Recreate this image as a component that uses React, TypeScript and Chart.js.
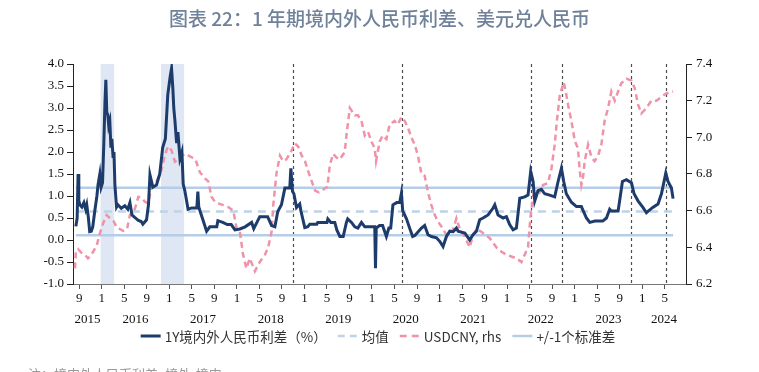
import { useEffect, useRef } from 'react';
import { Chart, registerables } from 'chart.js';

Chart.register(...registerables);

const titleText = '图表 22：1 年期境内外人民币利差、美元兑人民币';
const noteText = '注：境内外人民币利差=境外-境内';
const legendLabels = ['1Y境内外人民币利差（%）', '均值', 'USDCNY, rhs', '+/-1个标准差'];

const axisStart = '2015-07-28';
const axisEnd = '2024-08-25';
const monthTickMonths = [9, 1, 5];

const leftMin = -1.0;
const leftMax = 4.0;
const leftStep = 0.5;
const rightMin = 6.2;
const rightMax = 7.4;
const rightStep = 0.1;

const spreadMean = 0.65;
const spreadUpper = 1.19;
const spreadLower = 0.11;

const eventDates = ['2018-10-30', '2020-06-09', '2022-05-10', '2022-10-22', '2023-11-01', '2024-05-07'];
const shadedStarts = ['2015-12-25', '2016-11-17'];
const shadedEnds = ['2016-03-07', '2017-03-20'];

const spreadDates = [
  '2015-08-13', '2015-08-20', '2015-08-25', '2015-08-29', '2015-09-04', '2015-09-15', '2015-09-26', '2015-10-05',
  '2015-10-11', '2015-10-20', '2015-10-27', '2015-11-05', '2015-11-13', '2015-11-24', '2015-12-05', '2015-12-11',
  '2015-12-21', '2015-12-28', '2016-01-05', '2016-01-12', '2016-01-18', '2016-01-23', '2016-01-28', '2016-02-03',
  '2016-02-08', '2016-02-14', '2016-02-20', '2016-02-25', '2016-03-01', '2016-03-06', '2016-03-11', '2016-03-20',
  '2016-03-27', '2016-04-15', '2016-05-04', '2016-05-20', '2016-06-01', '2016-06-12', '2016-07-01', '2016-07-14',
  '2016-08-01', '2016-08-10', '2016-08-30', '2016-09-10', '2016-09-18', '2016-10-03', '2016-10-23', '2016-11-10',
  '2016-11-26', '2016-12-10', '2016-12-23', '2017-01-05', '2017-01-13', '2017-01-20', '2017-01-25', '2017-02-01',
  '2017-02-10', '2017-02-17', '2017-02-28', '2017-03-08', '2017-03-15', '2017-03-24', '2017-04-11', '2017-05-01',
  '2017-05-28', '2017-06-03', '2017-06-08', '2017-06-14', '2017-07-20', '2017-08-07', '2017-09-14', '2017-09-20',
  '2017-10-16', '2017-11-10', '2017-12-01', '2017-12-21', '2018-01-17', '2018-02-15', '2018-03-20', '2018-04-01',
  '2018-04-18', '2018-05-03', '2018-06-15', '2018-07-06', '2018-07-24', '2018-08-09', '2018-08-29', '2018-09-17',
  '2018-10-13', '2018-10-19', '2018-10-28', '2018-11-05', '2018-11-19', '2018-12-06', '2018-12-12', '2019-01-03',
  '2019-01-19', '2019-01-30', '2019-03-07', '2019-03-12', '2019-05-01', '2019-05-06', '2019-05-22', '2019-06-13',
  '2019-06-24', '2019-07-10', '2019-07-28', '2019-08-15', '2019-08-22', '2019-09-12', '2019-09-30', '2019-10-16',
  '2019-11-05', '2019-11-23', '2020-01-05', '2020-01-16', '2020-01-20', '2020-01-24', '2020-02-12', '2020-02-28',
  '2020-03-18', '2020-04-01', '2020-04-11', '2020-04-23', '2020-05-13', '2020-05-29', '2020-06-08', '2020-06-15',
  '2020-07-05', '2020-07-22', '2020-08-08', '2020-08-20', '2020-09-25', '2020-10-12', '2020-10-30', '2020-11-18',
  '2020-12-15', '2021-01-02', '2021-01-20', '2021-02-08', '2021-02-26', '2021-03-14', '2021-04-01', '2021-04-10',
  '2021-05-16', '2021-06-12', '2021-06-30', '2021-07-18', '2021-08-05', '2021-08-23', '2021-09-20', '2021-10-16',
  '2021-10-26', '2021-11-13', '2021-12-10', '2021-12-28', '2022-01-15', '2022-02-03', '2022-02-21', '2022-03-09',
  '2022-04-05', '2022-04-23', '2022-05-07', '2022-05-20', '2022-05-29', '2022-06-16', '2022-07-04', '2022-07-22',
  '2022-08-18', '2022-09-15', '2022-10-03', '2022-10-21', '2022-11-03', '2022-11-17', '2022-12-14', '2023-01-11',
  '2023-02-07', '2023-03-04', '2023-03-22', '2023-04-20', '2023-06-01', '2023-06-21', '2023-07-08', '2023-07-17',
  '2023-08-23', '2023-09-01', '2023-09-16', '2023-10-07', '2023-11-04', '2023-11-18', '2023-12-09', '2024-01-05',
  '2024-01-24', '2024-02-05', '2024-02-28', '2024-03-26', '2024-04-14', '2024-05-07', '2024-05-19', '2024-06-07',
  '2024-06-16',
];
const spreadValues = [
  0.31, 0.5, 1.5, 0.9, 0.8, 0.75, 0.85, 0.7,
  0.8, 0.5, 0.19, 0.2, 0.3, 0.66, 1.0, 1.25,
  1.5, 1.2, 1.3, 2.2, 3.1, 3.64, 2.9, 2.85,
  2.6, 2.7, 2.1, 2.3, 1.9, 2.0, 1.25, 0.75,
  0.8, 0.72, 0.78, 0.7, 0.85, 0.57, 0.5, 0.45,
  0.42, 0.36, 0.46, 0.8, 1.48, 1.2, 1.25, 1.5,
  2.1, 2.3, 3.3, 3.7, 3.9, 3.45, 3.0, 2.7,
  2.2, 2.45, 1.85, 2.0, 1.27, 1.12, 0.7, 0.73,
  0.73, 1.1, 0.75, 0.67, 0.2, 0.3, 0.3, 0.44,
  0.4, 0.35, 0.35, 0.23, 0.25, 0.3, 0.4, 0.26,
  0.4, 0.53, 0.53, 0.33, 0.3, 0.65, 0.8, 1.18,
  1.18, 1.63, 1.1, 1.05, 0.74, 0.82, 0.67, 0.28,
  0.3, 0.36, 0.36, 0.4, 0.4, 0.48, 0.4, 0.4,
  0.23, 0.08, 0.08, 0.4, 0.48, 0.4, 0.3, 0.27,
  0.4, 0.3, 0.3, 0.3, -0.64, 0.27, 0.33, 0.33,
  0.08, 0.27, 0.27, 0.8, 0.85, 0.85, 1.06, 0.66,
  0.48, 0.27, 0.08, 0.1, 0.27, 0.33, 0.12, 0.08,
  0.05, -0.03, -0.15, 0.08, 0.2, 0.19, 0.27, 0.2,
  0.16, 0.0, 0.12, 0.2, 0.46, 0.5, 0.57, 0.72,
  0.8, 0.57, 0.5, 0.53, 0.35, 0.23, 0.27, 0.95,
  0.98, 1.02, 1.56, 1.33, 0.89, 1.12, 1.15, 1.05,
  1.02, 0.98, 1.33, 1.63, 1.33, 1.05, 0.86, 0.76,
  0.76, 0.5, 0.4, 0.43, 0.43, 0.5, 0.7, 0.66,
  0.66, 0.89, 1.33, 1.37, 1.3, 1.05, 0.89, 0.74,
  0.62, 0.66, 0.74, 0.82, 1.05, 1.52, 1.33, 1.18,
  0.94,
];

const usdcnyDates = [
  '2015-08-08', '2015-08-13', '2015-08-25', '2015-09-13', '2015-10-01', '2015-10-18', '2015-11-06', '2015-12-04',
  '2015-12-21', '2016-01-08', '2016-01-27', '2016-02-14', '2016-03-06', '2016-03-20', '2016-04-07', '2016-04-25',
  '2016-05-16', '2016-06-01', '2016-06-28', '2016-07-16', '2016-08-03', '2016-08-20', '2016-09-07', '2016-09-25',
  '2016-10-13', '2016-10-31', '2016-11-19', '2016-12-06', '2016-12-24', '2017-01-12', '2017-02-01', '2017-02-19',
  '2017-03-09', '2017-03-27', '2017-04-14', '2017-05-02', '2017-05-20', '2017-06-14', '2017-07-11', '2017-07-29',
  '2017-08-16', '2017-09-03', '2017-09-20', '2017-10-19', '2017-11-15', '2017-12-12', '2017-12-30', '2018-01-17',
  '2018-02-04', '2018-02-22', '2018-03-10', '2018-04-07', '2018-05-03', '2018-05-31', '2018-06-18', '2018-07-06',
  '2018-07-15', '2018-08-03', '2018-08-21', '2018-09-08', '2018-09-25', '2018-10-19', '2018-11-10', '2018-11-28',
  '2018-12-17', '2019-01-04', '2019-01-23', '2019-02-10', '2019-02-28', '2019-03-18', '2019-04-05', '2019-05-03',
  '2019-05-17', '2019-06-04', '2019-06-22', '2019-07-10', '2019-08-06', '2019-08-15', '2019-09-03', '2019-09-30',
  '2019-10-16', '2019-11-05', '2019-11-23', '2019-12-10', '2019-12-29', '2020-01-16', '2020-01-23', '2020-02-12',
  '2020-02-28', '2020-03-18', '2020-04-05', '2020-05-01', '2020-05-19', '2020-06-08', '2020-06-26', '2020-07-14',
  '2020-08-01', '2020-08-19', '2020-09-06', '2020-09-25', '2020-10-12', '2020-10-30', '2020-11-18', '2020-12-06',
  '2020-12-24', '2021-01-20', '2021-02-08', '2021-03-07', '2021-03-14', '2021-04-01', '2021-04-19', '2021-05-16',
  '2021-06-12', '2021-06-30', '2021-07-18', '2021-08-14', '2021-09-29', '2021-11-04', '2021-12-01', '2021-12-28',
  '2022-01-24', '2022-02-21', '2022-03-18', '2022-04-05', '2022-04-23', '2022-05-05', '2022-05-20', '2022-06-07',
  '2022-06-25', '2022-07-13', '2022-08-09', '2022-08-28', '2022-09-15', '2022-09-27', '2022-10-12', '2022-11-03',
  '2022-11-14', '2022-11-26', '2022-12-14', '2023-01-02', '2023-01-19', '2023-01-28', '2023-02-07', '2023-02-16',
  '2023-02-25', '2023-03-13', '2023-04-01', '2023-04-18', '2023-05-06', '2023-05-24', '2023-06-11', '2023-06-30',
  '2023-07-17', '2023-08-05', '2023-08-23', '2023-09-10', '2023-10-07', '2023-11-04', '2023-11-21', '2023-12-09',
  '2023-12-27', '2024-01-24', '2024-02-20', '2024-03-17', '2024-04-14', '2024-05-10', '2024-06-16',
];
const usdcnyValues = [
  6.285, 6.376, 6.39, 6.37, 6.36, 6.34, 6.36, 6.41,
  6.476, 6.53, 6.576, 6.56, 6.54, 6.51, 6.5, 6.49,
  6.5, 6.576, 6.61, 6.676, 6.67, 6.65, 6.64, 6.72,
  6.74, 6.776, 6.82, 6.9, 6.95, 6.93, 6.867, 6.88,
  6.9, 6.91, 6.9, 6.89, 6.88, 6.81, 6.776, 6.76,
  6.676, 6.65, 6.64, 6.63, 6.62, 6.6, 6.504, 6.485,
  6.36, 6.285, 6.34, 6.27, 6.32, 6.36, 6.4, 6.485,
  6.63, 6.81, 6.9, 6.87, 6.88, 6.92, 6.967, 6.95,
  6.9, 6.87, 6.81, 6.76, 6.71, 6.7, 6.71, 6.73,
  6.85, 6.91, 6.89, 6.88, 6.92, 7.01, 7.16, 7.12,
  7.12, 7.09, 7.01, 7.03, 6.976, 6.94, 6.87, 6.976,
  7.01, 6.99, 7.07, 7.09, 7.07, 7.11, 7.09, 7.05,
  7.0, 6.96, 6.9, 6.8, 6.79, 6.7, 6.63, 6.576,
  6.54, 6.5, 6.467, 6.485, 6.5, 6.558, 6.5, 6.458,
  6.4, 6.467, 6.5, 6.485, 6.45, 6.4, 6.376, 6.36,
  6.35, 6.34, 6.32, 6.36, 6.4, 6.558, 6.68, 6.716,
  6.7, 6.74, 6.75, 6.83, 6.96, 7.09, 7.23, 7.3,
  7.25, 7.18, 7.09, 6.98, 6.94, 6.83, 6.74, 6.78,
  6.87, 6.96, 6.89, 6.87, 6.9, 6.96, 7.09, 7.16,
  7.25, 7.2, 7.25, 7.295, 7.32, 7.31, 7.27, 7.18,
  7.13, 7.16, 7.2, 7.2, 7.22, 7.24, 7.25,
];

const NAVY = '#1d3c6c';
const PINK = '#f093a8';
const MEAN_BLUE = '#bfd2e8';
const STD_BLUE = '#b5cde6';
const SHADE = '#dee7f3';
const EVENT_GRAY = '#4d4d4d';
const CJK = '"Noto Sans CJK SC", "Noto Sans", sans-serif';
const SERIF = '"Liberation Serif", "DejaVu Serif", serif';

function toMonthIndex(s: string): number {
  const [y, m, d] = s.split('-').map(Number);
  return y * 12 + (m - 1) + (d - 1) / 30.5;
}

const xMin = toMonthIndex(axisStart);
const xMax = toMonthIndex(axisEnd);

function buildMonthTicks(): number[] {
  const out: number[] = [];
  for (let m = Math.ceil(xMin); m <= xMax; m++) {
    if (monthTickMonths.includes((m % 12) + 1)) out.push(m);
  }
  return out;
}

function buildYearTicks(): number[] {
  const out: number[] = [];
  const y0 = Math.floor(xMin / 12);
  const y1 = Math.floor(xMax / 12);
  for (let y = y0; y <= y1; y++) {
    const a = Math.max(y * 12, xMin);
    const b = Math.min((y + 1) * 12, xMax);
    out.push((a + b) / 2);
  }
  return out;
}

const monthTicks = buildMonthTicks();
const yearTicks = buildYearTicks();

const decorPlugin = {
  id: 'decor',
  beforeDatasetsDraw(chart: any) {
    const { ctx, chartArea, scales } = chart;
    const x = scales.x;
    ctx.save();
    ctx.fillStyle = SHADE;
    shadedStarts.forEach((s, i) => {
      const a = x.getPixelForValue(toMonthIndex(s));
      const b = x.getPixelForValue(toMonthIndex(shadedEnds[i]));
      ctx.fillRect(a, chartArea.top, b - a, chartArea.bottom - chartArea.top);
    });
    ctx.strokeStyle = EVENT_GRAY;
    ctx.lineWidth = 1.2;
    ctx.setLineDash([3, 3]);
    eventDates.forEach((d) => {
      const px = Math.round(x.getPixelForValue(toMonthIndex(d))) + 0.5;
      ctx.beginPath();
      ctx.moveTo(px, chartArea.top);
      ctx.lineTo(px, chartArea.bottom);
      ctx.stroke();
    });
    ctx.restore();
  },
  afterDraw(chart: any) {
    const { ctx, width } = chart;
    ctx.save();
    // title
    ctx.fillStyle = '#70819a';
    ctx.font = `500 19px ${CJK}`;
    ctx.textAlign = 'center';
    ctx.textBaseline = 'middle';
    ctx.fillText(titleText, width / 2, 19);

    // legend
    const items = [
      { label: legendLabels[0], color: NAVY, dash: [] as number[], lw: 3 },
      { label: legendLabels[1], color: MEAN_BLUE, dash: [7, 5], lw: 2.5 },
      { label: legendLabels[2], color: PINK, dash: [7, 5], lw: 2.5 },
      { label: legendLabels[3], color: STD_BLUE, dash: [] as number[], lw: 2.5 },
    ];
    ctx.font = `13.5px ${CJK}`;
    const sample = 20;
    const gapText = 4;
    const gapItem = 11;
    const widths = items.map((it) => ctx.measureText(it.label).width);
    let total = 0;
    widths.forEach((w) => (total += sample + gapText + w));
    total += gapItem * (items.length - 1);
    let lx = 378 - total / 2;
    const ly = 336;
    ctx.textAlign = 'left';
    ctx.textBaseline = 'middle';
    items.forEach((it, i) => {
      ctx.beginPath();
      ctx.strokeStyle = it.color;
      ctx.lineWidth = it.lw;
      ctx.setLineDash(it.dash);
      ctx.moveTo(lx, ly);
      ctx.lineTo(lx + sample, ly);
      ctx.stroke();
      ctx.setLineDash([]);
      ctx.fillStyle = '#333';
      ctx.fillText(it.label, lx + sample + gapText, ly + 0.5);
      lx += sample + gapText + widths[i] + gapItem;
    });

    // note (cut by the bottom edge)
    ctx.fillStyle = '#999';
    ctx.font = `13px ${CJK}`;
    ctx.textBaseline = 'top';
    ctx.fillText(noteText, 28, 368);
    ctx.restore();
  },
};

export default function App() {
  const ref = useRef<HTMLCanvasElement | null>(null);

  useEffect(() => {
    if (!ref.current) return;
    const spreadData = spreadDates.map((d, i) => ({ x: toMonthIndex(d), y: spreadValues[i] }));
    const usdData = usdcnyDates.map((d, i) => ({ x: toMonthIndex(d), y: usdcnyValues[i] }));
    const first = toMonthIndex(spreadDates[0]);
    const last = toMonthIndex(spreadDates[spreadDates.length - 1]);

    const chart = new Chart(ref.current, {
      type: 'line',
      data: {
        datasets: [
          {
            label: legendLabels[0],
            data: spreadData,
            yAxisID: 'y',
            borderColor: NAVY,
            borderWidth: 3,
            pointRadius: 0,
            tension: 0,
          },
          {
            label: legendLabels[2],
            data: usdData,
            yAxisID: 'y1',
            borderColor: PINK,
            borderWidth: 2.5,
            borderDash: [6, 4],
            pointRadius: 0,
            tension: 0,
          },
          {
            label: legendLabels[1],
            data: [
              { x: first, y: spreadMean },
              { x: last, y: spreadMean },
            ],
            yAxisID: 'y',
            borderColor: MEAN_BLUE,
            borderWidth: 2.5,
            borderDash: [8, 6],
            pointRadius: 0,
          },
          {
            label: legendLabels[3],
            data: [
              { x: first, y: spreadUpper },
              { x: last, y: spreadUpper },
            ],
            yAxisID: 'y',
            borderColor: STD_BLUE,
            borderWidth: 2.5,
            pointRadius: 0,
          },
          {
            label: legendLabels[3] + ' ',
            data: [
              { x: first, y: spreadLower },
              { x: last, y: spreadLower },
            ],
            yAxisID: 'y',
            borderColor: STD_BLUE,
            borderWidth: 2.5,
            pointRadius: 0,
          },
        ],
      },
      options: {
        responsive: false,
        animation: false,
        devicePixelRatio: 1,
        layout: { padding: { top: 64, bottom: 46, left: 0, right: 0 } },
        plugins: {
          legend: { display: false },
          title: { display: false },
          tooltip: { enabled: false },
        },
        scales: {
          x: {
            type: 'linear',
            position: 'bottom',
            min: xMin,
            max: xMax,
            afterBuildTicks: (scale: any) => {
              scale.ticks = monthTicks.map((v) => ({ value: v }));
            },
            afterFit: (scale: any) => {
              scale.height = 22;
            },
            ticks: {
              autoSkip: false,
              maxRotation: 0,
              padding: 2,
              color: '#111',
              font: { family: SERIF, size: 13 },
              callback: (v: any) => String((Math.round(Number(v)) % 12) + 1),
            },
            grid: { display: true, drawOnChartArea: false, drawTicks: true, tickLength: 5, color: '#555' },
            border: { display: true, color: '#777', width: 1 },
          },
          x2: {
            type: 'linear',
            position: 'bottom',
            min: xMin,
            max: xMax,
            afterBuildTicks: (scale: any) => {
              scale.ticks = yearTicks.map((v) => ({ value: v }));
            },
            afterFit: (scale: any) => {
              scale.height = 20;
            },
            ticks: {
              autoSkip: false,
              maxRotation: 0,
              padding: 6,
              color: '#111',
              font: { family: SERIF, size: 13 },
              callback: (v: any) => String(Math.floor(Number(v) / 12)),
            },
            grid: { display: false, drawTicks: false },
            border: { display: false },
          },
          y: {
            type: 'linear',
            position: 'left',
            min: leftMin,
            max: leftMax,
            afterFit: (scale: any) => {
              scale.width = 73;
            },
            ticks: {
              stepSize: leftStep,
              padding: 3,
              color: '#111',
              font: { family: SERIF, size: 13 },
              callback: (v: any) => Number(v).toFixed(1),
            },
            grid: { display: true, drawOnChartArea: false, drawTicks: true, tickLength: 6, color: '#222' },
            border: { display: true, color: '#222', width: 1 },
          },
          y1: {
            type: 'linear',
            position: 'right',
            min: rightMin,
            max: rightMax,
            afterFit: (scale: any) => {
              scale.width = 73;
            },
            ticks: {
              stepSize: rightStep,
              padding: 4,
              color: '#111',
              font: { family: SERIF, size: 13 },
              callback: (v: any) => Number(v).toFixed(1),
            },
            grid: { display: true, drawOnChartArea: false, drawTicks: true, tickLength: 6, color: '#222' },
            border: { display: true, color: '#222', width: 1 },
          },
        },
      },
      plugins: [decorPlugin],
    });
    return () => chart.destroy();
  }, []);

  return (
    <div style={{ position: 'absolute', left: 0, top: 0, width: 759, height: 372, background: '#fff' }}>
      <canvas ref={ref} width={759} height={372} style={{ display: 'block' }} />
    </div>
  );
}
